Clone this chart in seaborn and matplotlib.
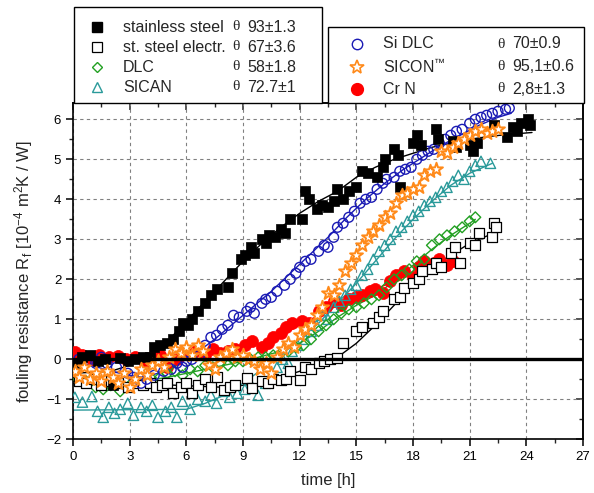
import numpy as np
import pandas as pd
import matplotlib
matplotlib.use('Agg')
import matplotlib.pyplot as plt
import seaborn as sns
from matplotlib.lines import Line2D
from matplotlib.patches import Rectangle

# ---------------- data ----------------
t_ss = [0.2,0.5,0.9,1.3,1.7,2.1,2.5,2.9,3.3,3.7,4.1,4.3,4.6,5.0,5.3,5.6,5.8,6.1,6.3,6.6,7.0,7.3,7.6,8.2,8.4,8.9,9.1,9.4,9.6,10.0,10.2,10.4,10.7,11.0,11.2,11.5,12.1,12.3,12.5,12.9,13.2,13.5,13.8,14.0,14.3,14.6,15.0,15.3,15.6,16.1,16.4,16.5,17.0,17.2,17.3,18.0,18.2,18.4,19.2,19.3,20.1,20.3,21.0,21.2,21.4,22.3,23.0,23.3,23.5,23.7,24.1,24.2]
R_ss = [-0.1,0.05,0.1,-0.05,0.0,-0.65,0.03,-0.05,0.0,0.05,0.05,0.3,0.35,0.4,0.5,0.7,0.9,0.85,1.0,1.2,1.4,1.6,1.75,1.8,2.15,2.5,2.6,2.8,2.65,3.0,2.9,3.1,3.05,3.25,3.15,3.5,3.5,4.2,4.0,3.75,3.85,3.8,3.95,4.25,4.0,4.2,4.3,4.7,4.65,4.55,4.8,5.0,5.25,5.1,4.3,5.4,5.6,5.35,5.75,5.5,5.45,5.3,5.35,5.2,5.4,5.85,5.55,5.8,5.7,5.9,6.0,5.85]
tf_ss = [0,2,3,4,5,6,7,8,9,10,11,12,13,14,15,16,17,18,19,20,21,22,23,24.3]
Rf_ss = [-0.35,-0.3,-0.15,0.1,0.45,0.95,1.45,1.95,2.45,2.9,3.3,3.65,3.95,4.2,4.55,4.8,5.0,5.15,5.3,5.4,5.5,5.57,5.62,5.67]

t_el = [0.3,0.7,1.1,1.5,2.0,2.4,2.9,3.3,3.7,4.1,4.4,4.7,5.0,5.3,5.7,6.0,6.3,6.6,7.0,7.3,7.6,8.0,8.3,8.6,9.2,9.5,10.0,10.3,10.6,11.0,11.3,11.5,12.0,12.3,12.6,13.0,13.3,13.6,14.0,14.3,15.0,15.3,15.9,16.2,16.4,17.0,17.3,17.5,18.0,18.3,18.5,19.0,19.2,19.5,20.0,20.2,20.5,21.0,21.3,21.5,22.2,22.3,22.4]
R_el = [-0.55,-0.6,-0.5,-0.65,-0.55,-0.6,-0.7,-0.6,-0.65,-0.6,-0.7,-0.65,-0.6,-0.85,-0.7,-0.6,-0.85,-0.65,-0.5,-0.7,-0.45,-0.77,-0.7,-0.65,-0.47,-0.72,-0.55,-0.6,-0.5,-0.52,-0.48,-0.3,-0.52,-0.2,-0.25,-0.1,-0.05,0.02,0.03,0.4,0.7,0.8,0.9,1.05,1.2,1.5,1.55,1.78,1.9,2.0,2.2,2.25,2.4,2.3,2.65,2.8,2.4,2.9,2.85,3.15,3.05,3.4,3.3]
tf_el = [0,4,8,10,12,13,14,15,16,17,18,19,20,21,22,22.5]
Rf_el = [-0.6,-0.62,-0.7,-0.6,-0.3,-0.12,0.05,0.4,0.85,1.35,1.9,2.3,2.6,2.9,3.1,3.2]

t_dl = [0.3,0.7,1.2,1.6,2.0,2.5,3.0,3.4,3.8,4.2,4.6,5.0,5.4,5.8,6.2,6.6,7.0,7.4,7.8,8.2,8.6,9.0,9.4,9.8,10.2,10.6,11.0,11.4,11.8,12.2,12.6,13.0,13.4,13.8,14.2,14.6,15.0,15.4,15.8,16.2,16.6,17.0,17.4,17.8,18.2,18.6,19.0,19.4,19.8,20.2,20.6,21.0,21.3]
R_dl = [-0.5,-0.55,-0.7,-0.75,-0.65,-0.8,-0.65,-0.55,-0.6,-0.5,-0.45,-0.35,-0.3,-0.4,-0.25,-0.3,-0.15,-0.2,-0.1,-0.15,-0.05,-0.05,0.0,0.05,0.05,0.1,0.15,0.2,0.3,0.35,0.5,0.7,0.85,1.0,1.15,1.25,1.3,1.4,1.5,1.6,1.8,2.0,2.1,2.25,2.45,2.5,2.85,3.0,3.1,3.2,3.3,3.45,3.55]
tf_dl = [0,3,5,7,9,11,12,13,14,15,16,17,18,19,20,21,21.3]
Rf_dl = [-0.55,-0.6,-0.45,-0.25,-0.05,0.2,0.4,0.7,1.05,1.35,1.6,1.95,2.35,2.75,3.1,3.4,3.5]

t_sa = [0.1,0.5,1.0,1.3,1.6,1.9,2.2,2.5,2.9,3.2,3.6,3.9,4.2,4.5,4.9,5.2,5.5,5.8,6.2,6.6,7.0,7.3,7.6,8.0,8.3,8.7,9.1,9.5,9.8,10.2,10.5,10.8,11.1,11.4,11.6,11.9,12.3,12.6,12.9,13.2,13.5,13.8,14.1,14.4,14.7,15.0,15.3,15.6,15.9,16.2,16.5,16.8,17.1,17.4,17.7,18.0,18.3,18.6,18.9,19.2,19.5,19.8,20.1,20.4,20.7,21.0,21.3,21.6,22.1]
R_sa = [-0.95,-1.07,-0.93,-1.3,-1.45,-1.2,-1.35,-1.25,-1.1,-1.4,-1.2,-1.3,-1.15,-1.45,-1.3,-1.2,-1.45,-1.05,-1.25,-1.0,-1.05,-0.9,-1.1,-0.8,-0.95,-0.85,-0.75,-0.7,-0.9,-0.6,-0.45,-0.2,0.0,-0.1,0.2,0.35,0.5,0.7,0.85,1.1,1.0,1.3,1.45,1.6,1.75,1.85,2.1,2.25,2.5,2.7,2.85,3.0,3.2,3.3,3.45,3.6,3.7,3.85,3.95,4.05,4.2,4.3,4.45,4.6,4.5,4.7,4.85,4.95,4.9]
tf_sa = [0,6,7,8,9,10,11,12,13,14,15,16,17,18,19,20,21,22.2]
Rf_sa = [-1.27,-1.25,-1.1,-0.9,-0.6,-0.25,0.1,0.5,0.9,1.4,1.9,2.45,3.0,3.5,3.95,4.35,4.65,4.9]

t_si = [0.3,0.8,1.2,1.5,1.8,2.3,2.9,3.2,3.6,3.9,4.3,4.8,5.2,5.5,5.8,6.0,6.3,6.7,7.0,7.3,7.6,7.9,8.2,8.5,8.8,9.2,9.4,9.6,10.0,10.2,10.5,10.8,11.2,11.5,11.8,12.0,12.3,12.6,13.0,13.3,13.5,13.8,14.0,14.3,14.6,14.9,15.2,15.5,15.8,16.1,16.4,16.6,17.0,17.3,17.6,17.9,18.2,18.5,18.8,19.1,19.4,19.7,20.0,20.3,20.6,21.0,21.3,21.6,21.9,22.2,22.5,22.9,23.1]
R_si = [0.0,-0.05,-0.1,0.05,-0.1,-0.2,-0.35,-0.45,-0.6,-0.5,-0.4,-0.3,-0.25,-0.1,-0.2,-0.05,0.0,0.1,0.35,0.55,0.6,0.75,0.85,1.1,1.05,1.2,1.3,1.15,1.4,1.5,1.55,1.7,1.85,2.0,2.15,2.3,2.45,2.5,2.7,2.85,2.8,3.05,3.3,3.4,3.55,3.7,3.9,4.0,4.05,4.25,4.4,4.5,4.55,4.7,4.75,4.8,5.0,5.1,5.2,5.25,5.4,5.5,5.6,5.7,5.75,5.9,6.0,6.05,6.1,6.15,6.2,6.25,6.28]
tf_si = [0,1,2,3,3.7,4.5,5.5,6.5,7.5,8.5,9.5,10.5,11.5,12.5,13.5,14.5,15.5,16.5,17.5,18.5,19.5,20.5,21.5,22.5,23.2]
Rf_si = [-0.05,-0.15,-0.3,-0.4,-0.45,-0.35,-0.15,0.15,0.5,0.9,1.3,1.7,2.15,2.6,3.05,3.55,4.0,4.4,4.75,5.05,5.35,5.6,5.85,6.05,6.15]

t_sc = [0.1,0.3,0.6,0.9,1.2,1.5,1.8,2.1,2.4,2.7,3.0,3.3,3.6,3.9,4.2,4.5,4.8,5.1,5.4,5.7,6.0,6.3,6.6,6.9,7.2,7.5,7.8,8.1,8.4,8.7,9.0,9.3,9.6,9.9,10.2,10.5,10.8,11.1,11.4,11.7,12.0,12.3,12.6,12.9,13.2,13.5,13.8,14.1,14.4,14.7,15.0,15.3,15.6,15.9,16.2,16.5,16.8,17.1,17.4,17.7,18.0,18.3,18.6,18.9,19.2,19.5,19.8,20.1,20.4,20.7,21.0,21.3,21.6,21.9,22.2,22.5]
R_sc = [-0.3,-0.45,-0.2,-0.5,-0.35,-0.55,-0.3,-0.45,-0.6,-0.35,-0.7,-0.5,-0.25,-0.4,-0.15,-0.05,-0.2,0.05,0.25,0.15,0.3,0.1,0.35,0.2,-0.15,-0.25,0.05,0.15,0.25,0.05,0.1,0.0,-0.05,-0.25,-0.1,-0.35,0.05,0.25,0.4,0.3,0.6,0.75,0.85,1.1,1.3,1.65,1.6,1.85,2.2,2.4,2.6,2.85,3.05,3.2,3.35,3.55,3.65,3.9,4.1,4.15,4.25,4.3,4.6,4.7,4.75,5.2,5.15,5.3,5.4,5.5,5.6,5.7,5.75,5.65,5.7,5.75]

t_cr = [0.1,0.5,1.0,1.4,1.9,2.4,2.8,3.3,3.8,4.2,4.6,5.0,5.5,6.0,6.5,7.0,7.4,7.8,8.2,8.6,9.1,9.5,10.0,10.3,10.6,11.0,11.3,11.6,12.1,12.5,13.0,13.4,13.8,14.2,14.6,15.0,15.3,15.7,16.0,16.4,16.8,17.1,17.5,18.0,18.3,18.6,19.1,19.4,19.8,20.1]
R_cr = [0.18,0.1,0.0,0.12,0.05,0.08,0.0,0.05,-0.1,0.05,0.1,-0.2,0.0,0.15,0.2,0.1,0.25,0.15,0.2,0.25,0.35,0.45,0.3,0.4,0.55,0.65,0.8,0.9,0.95,0.9,1.2,1.3,1.45,1.35,1.5,1.55,1.6,1.7,1.75,1.65,1.95,2.1,2.2,2.05,2.3,2.45,2.4,2.5,2.35,2.45]
tf_cr = [0,4,6,8,10,11,12,13,14,15,16,17,18,19,20.1]
Rf_cr = [0.05,0.05,0.1,0.2,0.4,0.6,0.85,1.1,1.35,1.55,1.75,1.95,2.15,2.3,2.45]

names_left = ["stainless steel", "st. steel electr.", "DLC", "SICAN"]
theta_left = ["93±1.3", "67±3.6", "58±1.8", "72.7±1"]
names_right = ["Si DLC", "SICON$^{™}$", "Cr N"]
theta_right = ["70±0.9", "95,1±0.6", "2,8±1.3"]

x_ticks = [0, 3, 6, 9, 12, 15, 18, 21, 24, 27]
y_ticks = [-2, -1, 0, 1, 2, 3, 4, 5, 6]

# ---------------- styling ----------------
sns.set_theme(style='ticks')
plt.rcParams['font.family'] = ['Liberation Sans', 'DejaVu Sans']
plt.rcParams['mathtext.default'] = 'regular'

C_BLACK = 'black'
C_GREEN = '#22a022'
C_TEAL = '#2a9a9a'
C_BLUE = '#1a1ab4'
C_ORANGE = '#ff8a1a'
C_RED = '#ff0000'

W, H = 594, 493
fig = plt.figure(figsize=(W/100, H/100), dpi=100)
ax = fig.add_axes([73/W, 1-439.3/H, 510/W, (439.3-103.3)/H])

# fit lines
for tf, Rf, c in [(tf_ss, Rf_ss, C_BLACK), (tf_el, Rf_el, C_BLACK), (tf_dl, Rf_dl, C_GREEN),
                  (tf_sa, Rf_sa, C_TEAL), (tf_si, Rf_si, C_BLUE), (tf_cr, Rf_cr, C_RED)]:
    sns.lineplot(x=tf, y=Rf, ax=ax, color=c, lw=1.0, sort=False, estimator=None, zorder=2)

ms = 42
sns.scatterplot(x=t_cr, y=R_cr, ax=ax, marker='o', s=75, color=C_RED, edgecolor=C_RED, linewidth=0.5, zorder=3)
sns.scatterplot(x=t_sa, y=R_sa, ax=ax, marker='^', s=55, facecolor='none', edgecolor=C_TEAL, linewidth=1.0, zorder=3)
sns.scatterplot(x=t_dl, y=R_dl, ax=ax, marker='D', s=30, facecolor='none', edgecolor=C_GREEN, linewidth=1.0, zorder=3)
sns.scatterplot(x=t_el, y=R_el, ax=ax, marker='s', s=ms, facecolor='white', edgecolor=C_BLACK, linewidth=0.9, zorder=3)
sns.scatterplot(x=t_si, y=R_si, ax=ax, marker='o', s=50, facecolor='none', edgecolor=C_BLUE, linewidth=1.0, zorder=3)
sns.scatterplot(x=t_ss, y=R_ss, ax=ax, marker='s', s=ms, color=C_BLACK, edgecolor=C_BLACK, linewidth=0.5, zorder=3)
sns.scatterplot(x=t_sc, y=R_sc, ax=ax, marker='*', s=95, facecolor='white', edgecolor=C_ORANGE, linewidth=1.4, zorder=3)

ax.axhline(0, color='black', lw=2.4, zorder=4)

ax.set_xlim(0, 27)
ax.set_ylim(-2, 6.4)
ax.set_xticks(x_ticks)
ax.set_yticks(y_ticks)
ax.set_xticks(np.arange(0, 27.01, 1.5), minor=True)
ax.set_yticks(np.arange(-2, 6.41, 0.5), minor=True)
ax.grid(True, which='major', color='#808080', linestyle=(0, (3, 3)), linewidth=0.8)
ax.set_axisbelow(True)
for s in ax.spines.values():
    s.set_linewidth(1.2)
    s.set_color('black')
ax.tick_params(which='major', direction='out', length=5, width=1.1, labelsize=9.5, colors='black')
ax.tick_params(which='minor', direction='out', length=3, width=1.0)

secx = ax.secondary_xaxis('top')
secx.set_xticks(x_ticks)
secx.set_xticks(np.arange(0, 27.01, 1.5), minor=True)
secx.tick_params(which='major', direction='in', length=5, width=1.1, labeltop=False)
secx.tick_params(which='minor', direction='in', length=3, width=1.0)
secx.spines['top'].set_linewidth(1.2)
secy = ax.secondary_yaxis('right')
secy.set_yticks(y_ticks)
secy.set_yticks(np.arange(-2, 6.41, 0.5), minor=True)
secy.tick_params(which='major', direction='in', length=5, width=1.1, labelright=False)
secy.tick_params(which='minor', direction='in', length=3, width=1.0)
secy.spines['right'].set_linewidth(1.2)

ax.set_xlabel('time [h]', fontsize=12)
ax.set_ylabel('fouling resistance R$_{f}$ [10$^{-4}$ m$^{2}$K / W]', fontsize=12)
ax.xaxis.set_label_coords(0.5, -0.1)
ax.yaxis.set_label_coords(-0.075, 0.5)

# ---------------- legends ----------------
def fx(px):
    return px / W

def fy(py):
    return 1 - py / H

fig.add_artist(Rectangle((fx(74), fy(103)), fx(322) - fx(74), fy(7) - fy(103), transform=fig.transFigure,
                         facecolor='white', edgecolor='black', lw=1.0, zorder=5))
fig.add_artist(Rectangle((fx(328), fy(103)), fx(584) - fx(328), fy(27) - fy(103), transform=fig.transFigure,
                         facecolor='white', edgecolor='black', lw=1.0, zorder=5))

left_style = [dict(marker='s', ms=7, mfc='black', mec='black'),
              dict(marker='s', ms=7, mfc='white', mec='black', mew=0.9),
              dict(marker='D', ms=5.5, mfc='white', mec=C_GREEN, mew=1.0),
              dict(marker='^', ms=7.5, mfc='white', mec=C_TEAL, mew=1.0)]
right_style = [dict(marker='o', ms=7.5, mfc='white', mec=C_BLUE, mew=1.0),
               dict(marker='*', ms=10, mfc='white', mec=C_ORANGE, mew=1.2),
               dict(marker='o', ms=8.5, mfc=C_RED, mec=C_RED)]

for i, (nm, th, st) in enumerate(zip(names_left, theta_left, left_style)):
    yy = fy(27 + 20 * i)
    fig.add_artist(Line2D([fx(97)], [yy], transform=fig.transFigure, ls='none', zorder=6, **st))
    fig.text(fx(123), yy, nm, fontsize=11.5, va='center', ha='left', zorder=6)
    fig.text(fx(232), yy, 'θ', fontsize=11, va='center', ha='left', family='Liberation Serif', zorder=6)
    fig.text(fx(247), yy, th, fontsize=11.5, va='center', ha='left', zorder=6)

for i, (nm, th, st) in enumerate(zip(names_right, theta_right, right_style)):
    yy = fy(44 + 22.5 * i)
    fig.add_artist(Line2D([fx(357)], [yy], transform=fig.transFigure, ls='none', zorder=6, **st))
    fig.text(fx(383), yy, nm, fontsize=11.5, va='center', ha='left', zorder=6)
    fig.text(fx(497), yy, 'θ', fontsize=11, va='center', ha='left', family='Liberation Serif', zorder=6)
    fig.text(fx(512), yy, th, fontsize=11.5, va='center', ha='left', zorder=6)

fig.savefig('out.png', dpi=100)
